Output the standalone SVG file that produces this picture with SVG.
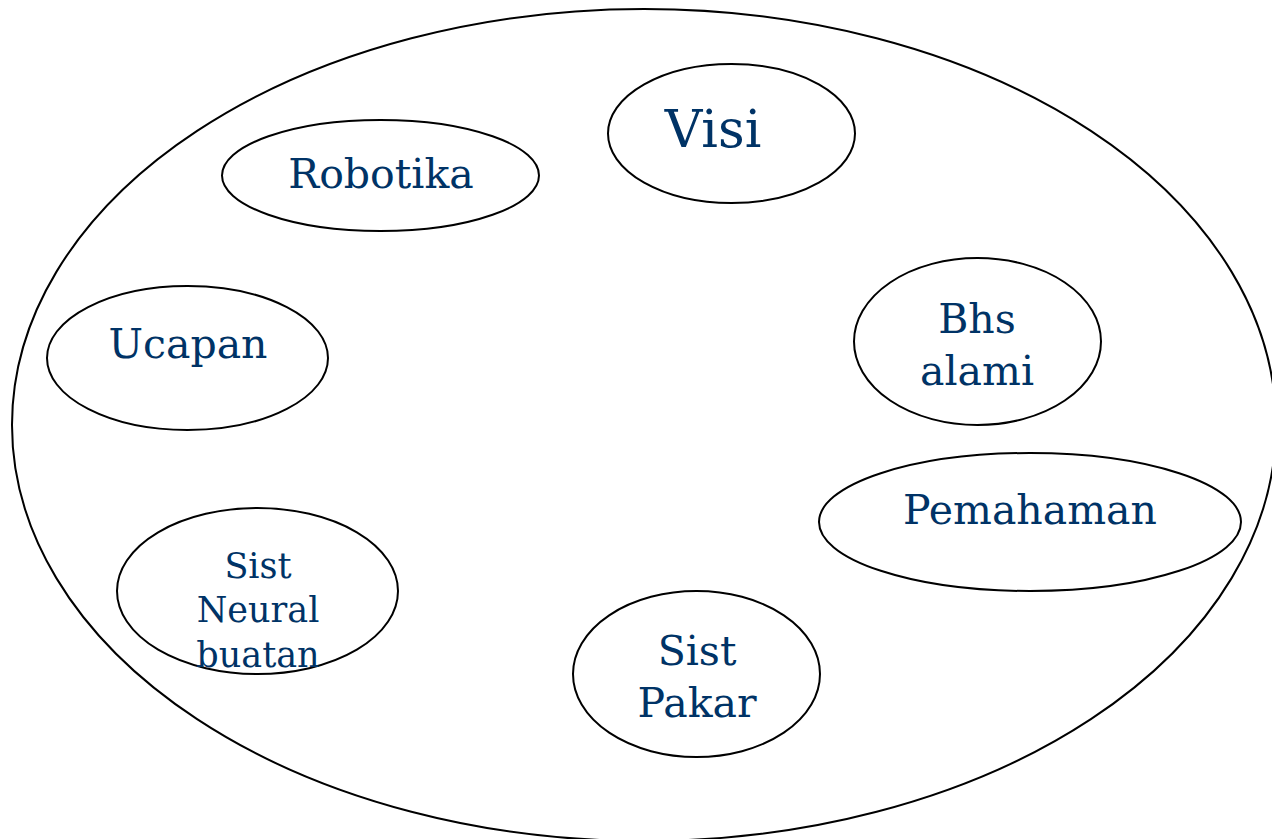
<svg xmlns="http://www.w3.org/2000/svg" width="1272" height="839" viewBox="0 0 1272 839">
<style>
.o{fill:none;stroke:#000;stroke-width:2}
.n{fill:#fff;stroke:#000;stroke-width:2}
.t{font-family:"DejaVu Serif","Liberation Serif",serif;fill:#003366;text-anchor:middle;font-size:41px}
.s{font-size:35px}
.v{font-size:52px}
</style>
<rect width="1272" height="839" fill="#fff"/>
<ellipse class="o" cx="644" cy="425" rx="632" ry="416"/>
<g id="visi"><ellipse class="n" cx="731.5" cy="133.5" rx="123.5" ry="69.5"/><text class="t v" x="713" y="147">Visi</text></g>
<g id="robotika"><ellipse class="n" cx="380.5" cy="175.5" rx="158.5" ry="55.5"/><text class="t" x="381" y="188">Robotika</text></g>
<g id="ucapan"><ellipse class="n" cx="187.5" cy="358" rx="140.5" ry="72"/><text class="t" x="188" y="358">Ucapan</text></g>
<g id="bhs"><ellipse class="n" cx="977.5" cy="341.5" rx="123.5" ry="83.5"/><text class="t" x="977" y="333">Bhs</text><text class="t" x="977" y="385">alami</text></g>
<g id="pemahaman"><ellipse class="n" cx="1030" cy="522" rx="211" ry="69"/><text class="t" x="1030" y="524">Pemahaman</text></g>
<g id="neural"><ellipse class="n" cx="257.5" cy="591" rx="140.5" ry="83"/><text class="t s" x="258" y="578">Sist</text><text class="t s" x="258" y="622">Neural</text><text class="t s" x="258" y="667">buatan</text></g>
<g id="pakar"><ellipse class="n" cx="696.5" cy="674" rx="123.5" ry="83"/><text class="t" x="697" y="665">Sist</text><text class="t" x="697" y="717">Pakar</text></g>
<g id="connectors"></g>
</svg>
